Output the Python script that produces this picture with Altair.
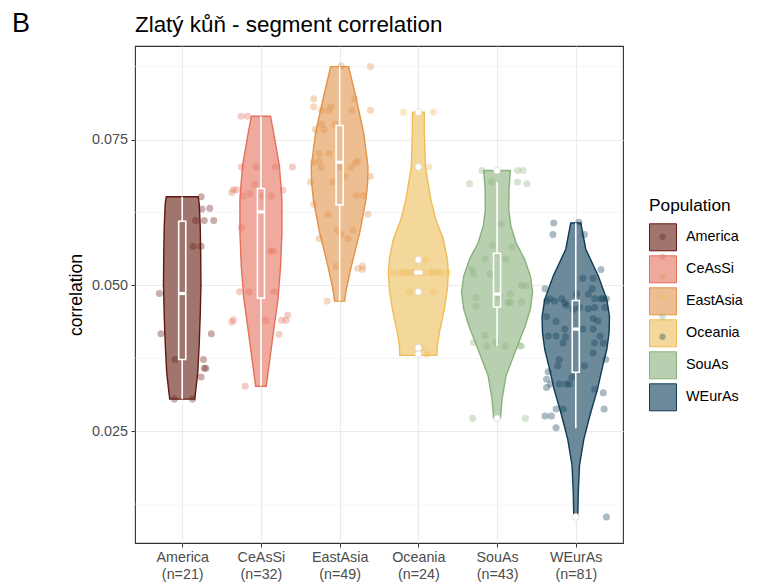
import json
import altair as alt
import pandas as pd

FONT = "Liberation Sans"

# ---------------- data ----------------
populations = ["America", "CeAsSi", "EastAsia", "Oceania", "SouAs", "WEurAs"]
counts = [21, 32, 49, 24, 43, 81]
base_colors = ["#61190D", "#E4705C", "#E19348", "#EDBE58", "#89B17B", "#0C3C57"]
violin_fills = ["#A0756E", "#EFA99D", "#EDBE91", "#F4D89B", "#B8D0B0", "#6D8A9A"]

chart_title = "Zlatý kůň - segment correlation"
panel_tag = "B"

y_major = [0.025, 0.050, 0.075]
y_minor = [0.0125, 0.0375, 0.0625, 0.0875]

# violin outlines: correlation value and half width (in category units)
america_violin_y = [0.0652, 0.0640, 0.0600, 0.0550, 0.0500, 0.0450, 0.0400, 0.0350, 0.0320, 0.0305]
america_violin_w = [0.203, 0.216, 0.229, 0.235, 0.238, 0.229, 0.216, 0.197, 0.172, 0.159]
ceassi_violin_y = [0.0790, 0.0762, 0.0704, 0.0647, 0.0591, 0.0533, 0.0476, 0.0420, 0.0362, 0.0327]
ceassi_violin_w = [0.121, 0.161, 0.235, 0.267, 0.267, 0.250, 0.216, 0.159, 0.102, 0.067]
eastasia_violin_y = [0.0875, 0.0819, 0.0762, 0.0704, 0.0676, 0.0647, 0.0590, 0.0533, 0.0493, 0.0473]
eastasia_violin_w = [0.114, 0.212, 0.305, 0.360, 0.356, 0.334, 0.254, 0.149, 0.085, 0.064]
oceania_violin_y = [0.0797, 0.0762, 0.0704, 0.0647, 0.0613, 0.0579, 0.0545, 0.0522, 0.0493, 0.0459, 0.0419, 0.0396, 0.0380]
oceania_violin_w = [0.076, 0.076, 0.089, 0.159, 0.222, 0.318, 0.368, 0.381, 0.368, 0.330, 0.267, 0.241, 0.235]
souas_violin_y = [0.0697, 0.0665, 0.0630, 0.0602, 0.0573, 0.0545, 0.0516, 0.0488, 0.0459, 0.0430, 0.0390, 0.0345, 0.0305, 0.0272]
souas_violin_w = [0.169, 0.152, 0.149, 0.175, 0.241, 0.349, 0.423, 0.451, 0.423, 0.356, 0.241, 0.114, 0.064, 0.044]
weuras_violin_y = [0.0607, 0.0562, 0.0516, 0.0476, 0.0447, 0.0419, 0.0390, 0.0362, 0.0322, 0.0276, 0.0236, 0.0191, 0.0145, 0.0102]
weuras_violin_w = [0.064, 0.127, 0.286, 0.394, 0.428, 0.423, 0.394, 0.343, 0.276, 0.178, 0.102, 0.047, 0.032, 0.025]

# jittered points: value and horizontal jitter (category units)
america_pts = [0.0652, 0.0631, 0.0632, 0.0611, 0.0611, 0.0611, 0.0567, 0.0567, 0.0486, 0.0417, 0.0417, 0.0373,
               0.0373, 0.0358, 0.0358, 0.0343, 0.0305, 0.0305]
america_jit = [0.24, 0.25, 0.35, 0.17, 0.28, 0.40, 0.14, 0.24, -0.29, -0.27, 0.37, -0.09,
               0.27, 0.30, 0.28, 0.24, -0.10, 0.13]
ceassi_pts = [0.0790, 0.0790, 0.0703, 0.0703, 0.0703, 0.0703, 0.0664, 0.0664, 0.0659, 0.0673, 0.0657, 0.0653,
              0.0653, 0.0653, 0.0663, 0.0599, 0.0559, 0.0559, 0.0489, 0.0489, 0.0489, 0.0441, 0.0437, 0.0440,
              0.0440, 0.0440, 0.0449, 0.0416, 0.0327]
ceassi_jit = [-0.25, -0.17, -0.25, -0.06, 0.18, 0.40, -0.35, -0.31, -0.37, -0.08, -0.14, -0.23,
              0.02, 0.13, 0.28, -0.25, 0.12, 0.16, -0.27, -0.15, 0.17, -0.35, -0.37, 0.06,
              0.26, 0.32, 0.34, 0.23, -0.20]
eastasia_pts = [0.0876, 0.0875, 0.0820, 0.0806, 0.0806, 0.0800, 0.0800, 0.0820, 0.0800, 0.0800, 0.0767, 0.0767,
                0.0776, 0.0776, 0.0726, 0.0726, 0.0713, 0.0702, 0.0711, 0.0703, 0.0702, 0.0710, 0.0713, 0.0687,
                0.0677, 0.0677, 0.0687, 0.0639, 0.0654, 0.0654, 0.0622, 0.0622, 0.0595, 0.0587, 0.0580, 0.0595,
                0.0580, 0.0533, 0.0529, 0.0533, 0.0527, 0.0473]
eastasia_jit = [0.02, 0.39, -0.33, -0.33, -0.11, -0.14, -0.23, 0.19, 0.16, 0.39, -0.31, -0.20,
                -0.23, -0.06, -0.26, -0.13, -0.26, -0.24, -0.33, 0.01, 0.14, 0.20, 0.23, 0.07,
                -0.37, -0.09, 0.39, -0.33, 0.21, 0.30, -0.15, 0.36, -0.03, 0.02, 0.11, 0.17,
                -0.26, -0.04, 0.23, 0.29, 0.29, -0.16]
oceania_pts = [0.0797, 0.0797, 0.0703, 0.0544, 0.0522, 0.0522, 0.0522, 0.0522, 0.0522, 0.0522, 0.0522, 0.0522,
               0.0522, 0.0522, 0.0522, 0.0522, 0.0489, 0.0489, 0.0393, 0.0382]
oceania_jit = [-0.19, 0.19, 0.13, 0.09, -0.32, -0.23, -0.19, -0.16, -0.10, -0.05, 0.06, 0.15,
               0.19, 0.24, 0.28, 0.37, -0.11, 0.19, 0.04, 0.11]
souas_pts = [0.0697, 0.0697, 0.0697, 0.0674, 0.0677, 0.0677, 0.0674, 0.0605, 0.0569, 0.0566, 0.0545, 0.0545,
             0.0527, 0.0519, 0.0519, 0.0500, 0.0499, 0.0479, 0.0465, 0.0481, 0.0485, 0.0471, 0.0471, 0.0471,
             0.0402, 0.0414, 0.0396, 0.0402, 0.0396, 0.0396, 0.0396, 0.0272, 0.0272]
souas_jit = [-0.19, 0.26, 0.33, -0.35, -0.07, 0.26, 0.38, 0.06, -0.06, 0.19, -0.15, 0.11,
             -0.32, -0.30, -0.09, 0.31, 0.37, -0.27, -0.27, 0.03, 0.17, 0.17, 0.14, 0.31,
             -0.30, -0.15, -0.13, -0.02, 0.10, 0.29, 0.31, -0.31, 0.36]
weuras_pts = [0.0607, 0.0608, 0.0587, 0.0587, 0.0527, 0.0512, 0.0512, 0.0494, 0.0494, 0.0477, 0.0477, 0.0485,
              0.0485, 0.0477, 0.0477, 0.0477, 0.0477, 0.0473, 0.0473, 0.0470, 0.0466, 0.0462, 0.0460, 0.0462,
              0.0462, 0.0446, 0.0438, 0.0459, 0.0443, 0.0439, 0.0413, 0.0413, 0.0425, 0.0412, 0.0425, 0.0425,
              0.0413, 0.0401, 0.0401, 0.0401, 0.0373, 0.0362, 0.0384, 0.0373, 0.0352, 0.0339, 0.0362, 0.0342,
              0.0325, 0.0331, 0.0331, 0.0331, 0.0331, 0.0322, 0.0316, 0.0288, 0.0288, 0.0276, 0.0276, 0.0288,
              0.0256, 0.0103]
weuras_jit = [-0.28, 0.04, -0.29, 0.11, 0.32, 0.09, 0.22, -0.39, 0.21, -0.33, -0.18, 0.01,
              0.16, 0.24, 0.32, 0.34, 0.39, -0.37, -0.27, -0.14, -0.12, 0.05, 0.16, 0.24,
              0.37, -0.37, -0.25, -0.03, 0.22, 0.28, -0.35, -0.25, -0.14, -0.13, 0.09, 0.22,
              0.31, 0.24, 0.35, -0.16, -0.21, 0.11, 0.22, 0.38, -0.35, -0.37, -0.23, -0.05,
              -0.37, -0.32, -0.21, -0.12, -0.08, 0.24, 0.35, -0.25, -0.16, -0.39, -0.31, 0.36,
              -0.25, 0.39]

# boxplot statistics
box_lower = [0.0305, 0.0327, 0.0473, 0.0520, 0.0396, 0.0255]
box_q1 = [0.0373, 0.0478, 0.0638, 0.0520, 0.0463, 0.0351]
box_median = [0.0486, 0.0626, 0.0711, 0.0522, 0.0485, 0.0425]
box_q3 = [0.0610, 0.0666, 0.0774, 0.0524, 0.0555, 0.0474]
box_upper = [0.0652, 0.0790, 0.0875, 0.0524, 0.0677, 0.0607]
outlier_pop = ["Oceania"] * 6 + ["SouAs"] * 2 + ["WEurAs"]
outlier_val = [0.0797, 0.0703, 0.0544, 0.0489, 0.0393, 0.0382, 0.0697, 0.0272, 0.0103]

# ---------------- tables ----------------
violin_y = [america_violin_y, ceassi_violin_y, eastasia_violin_y, oceania_violin_y, souas_violin_y, weuras_violin_y]
violin_w = [america_violin_w, ceassi_violin_w, eastasia_violin_w, oceania_violin_w, souas_violin_w, weuras_violin_w]
pts = [america_pts, ceassi_pts, eastasia_pts, oceania_pts, souas_pts, weuras_pts]
jit = [america_jit, ceassi_jit, eastasia_jit, oceania_jit, souas_jit, weuras_jit]

vframes, pframes = [], []
for i, p in enumerate(populations):
    pos = i + 1
    v = pd.DataFrame({"value": violin_y[i], "w": violin_w[i]})
    v["Population"] = p
    v["lo"] = pos - v["w"]
    v["hi"] = pos + v["w"]
    vframes.append(v)
    d = pd.DataFrame({"value": pts[i], "j": jit[i]})
    d["Population_pt"] = p
    d["x"] = pos + d["j"]
    pframes.append(d)
violin_df = pd.concat(vframes, ignore_index=True)
points_df = pd.concat(pframes, ignore_index=True)

BOX_HALF = 0.045
box_df = pd.DataFrame({"Population": populations, "pos": list(range(1, 7)),
                       "lw": box_lower, "q1": box_q1, "med": box_median, "q3": box_q3, "uw": box_upper})
box_df["blo"] = box_df["pos"] - BOX_HALF
box_df["bhi"] = box_df["pos"] + BOX_HALF
out_df = pd.DataFrame({"Population": outlier_pop, "value": outlier_val})
out_df["pos"] = out_df["Population"].map({p: i + 1 for i, p in enumerate(populations)})
minor_df = pd.DataFrame({"y": y_minor})
tag_df = pd.DataFrame({"t": [panel_tag]})
title_df = pd.DataFrame({"t": [chart_title]})

labels = [f"{p}\n(n={n})" for p, n in zip(populations, counts)]
label_expr = "split(" + json.dumps(labels) + "[round(datum.value) - 1], '\\n')"

# ---------------- scales / axes ----------------
x_scale = alt.Scale(domain=[0.4, 6.6], nice=False, zero=False)
y_scale = alt.Scale(domain=[0.00583, 0.09103], nice=False, zero=False)

x_axis = alt.Axis(values=list(range(1, 7)), labelExpr=label_expr, title=None, grid=True,
                  gridColor="#ebebeb", gridWidth=1.1, domain=False, tickColor="#333333", tickSize=4,
                  labelFont=FONT, labelFontSize=14.3, labelColor="#4d4d4d", labelPadding=3,
                  labelLineHeight=17.5)
y_axis = alt.Axis(values=y_major, format=".3f", title="correlation", grid=True, gridColor="#ebebeb",
                  gridWidth=1.1, domain=False, tickColor="#333333", tickSize=4, labelFont=FONT,
                  labelFontSize=14.4, labelColor="#4d4d4d", labelPadding=3.5, titleFont=FONT,
                  titleFontSize=17.6, titleFontWeight="normal", titleColor="#000000", titlePadding=6)

LEG_X, LEG_Y = 514, 151
LEG_TITLE_SIZE, LEG_TITLE_PAD = 17.3, 9
leg_common = dict(orient="none", legendX=LEG_X, labelFont=FONT, labelFontSize=14.4, labelOffset=9,
                  symbolSize=729, rowPadding=0, padding=0)
fill_legend = alt.Legend(symbolType="square", symbolStrokeWidth=1, title="Population", titleFont=FONT,
                         titleFontSize=LEG_TITLE_SIZE, titleFontWeight="normal", titlePadding=LEG_TITLE_PAD,
                         titleColor="#000000", labelColor="#000000", legendY=LEG_Y, **leg_common)
dot_path = "M-0.24,0A0.24,0.24,0,1,1,0.24,0A0.24,0.24,0,1,1,-0.24,0Z"
dot_legend = alt.Legend(symbolType=dot_path, symbolStrokeWidth=0, symbolOpacity=0.35, title=None,
                        labelExpr="''", legendY=LEG_Y + LEG_TITLE_SIZE + LEG_TITLE_PAD, **leg_common)


def X(field):
    return alt.X(field, scale=x_scale, axis=x_axis)


def Y(field):
    return alt.Y(field, scale=y_scale, axis=y_axis)


# ---------------- layers ----------------
minor = alt.Chart(minor_df).mark_rule(color="#ebebeb", strokeWidth=0.55).encode(y=Y("y:Q"))

violins = alt.Chart(violin_df).mark_area(orient="horizontal", strokeWidth=1.4).encode(
    x=alt.X("lo:Q", scale=x_scale, axis=x_axis, stack=None),
    x2="hi:Q",
    y=Y("value:Q"),
    fill=alt.Fill("Population:N", scale=alt.Scale(domain=populations, range=violin_fills), legend=fill_legend),
    stroke=alt.Stroke("Population:N", scale=alt.Scale(domain=populations, range=base_colors), legend=fill_legend),
)

points = alt.Chart(points_df).mark_circle(size=50, opacity=0.35).encode(
    x=X("x:Q"),
    y=Y("value:Q"),
    color=alt.Color("Population_pt:N", scale=alt.Scale(range=base_colors), legend=dot_legend),
)

box_base = alt.Chart(box_df)
whisk_hi = box_base.mark_rule(color="white", strokeWidth=1.6).encode(x=X("pos:Q"), y=Y("q3:Q"), y2="uw:Q")
whisk_lo = box_base.mark_rule(color="white", strokeWidth=1.6).encode(x=X("pos:Q"), y=Y("lw:Q"), y2="q1:Q")
boxes = box_base.mark_rect(fillOpacity=0, stroke="white", strokeWidth=1.6).encode(
    x=X("blo:Q"), x2="bhi:Q", y=Y("q1:Q"), y2="q3:Q")
medians = box_base.mark_rule(color="white", strokeWidth=3.2).encode(x=X("blo:Q"), x2="bhi:Q", y=Y("med:Q"))
outliers = alt.Chart(out_df).mark_circle(size=46, color="white", opacity=1, stroke="#d0d0d0",
                                         strokeWidth=0.6).encode(x=X("pos:Q"), y=Y("value:Q"))

tag = alt.Chart(tag_df).mark_text(font=FONT, fontSize=27, align="left", baseline="alphabetic",
                                  color="#000000").encode(
    text="t:N", x=alt.value(-123), y=alt.value(-14.5))
title = alt.Chart(title_df).mark_text(font=FONT, fontSize=22.4, align="left", baseline="alphabetic",
                                      color="#000000").encode(
    text="t:N", x=alt.value(0), y=alt.value(-13.7))

chart = alt.layer(minor, violins, points, whisk_hi, whisk_lo, boxes, medians, outliers, tag, title).properties(
    width=488, height=497,
    autosize="none",
    padding={"left": 127, "top": 38, "right": 131, "bottom": 41},
).configure(font=FONT, background="white").configure_view(stroke="#333333", strokeWidth=1.1)

chart.save("out.html", embed_options={"renderer": "svg", "actions": False})
